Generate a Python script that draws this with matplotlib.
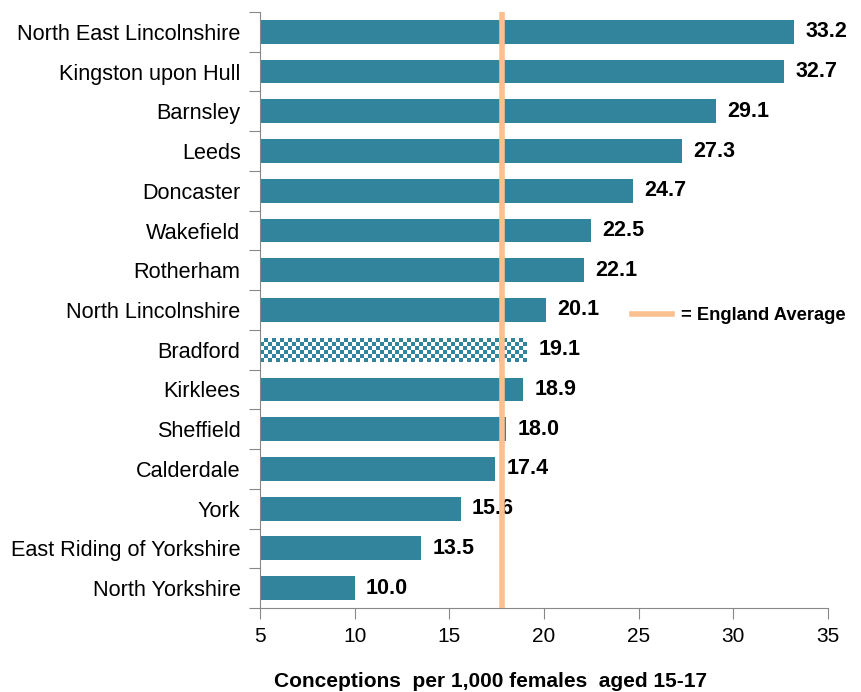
import matplotlib
matplotlib.use('Agg')
import matplotlib.pyplot as plt
import numpy as np
from matplotlib.lines import Line2D

areas = ["North East Lincolnshire", "Kingston upon Hull", "Barnsley", "Leeds",
         "Doncaster", "Wakefield", "Rotherham", "North Lincolnshire", "Bradford",
         "Kirklees", "Sheffield", "Calderdale", "York", "East Riding of Yorkshire",
         "North Yorkshire"]
rates = [33.2, 32.7, 29.1, 27.3, 24.7, 22.5, 22.1, 20.1, 19.1, 18.9, 18.0, 17.4,
         15.6, 13.5, 10.0]
england_avg = 17.8
highlight = "Bradford"

teal = "#31849B"
peach = "#FAC090"
font = ["Liberation Sans", "DejaVu Sans"]
plt.rcParams["font.family"] = font

fig = plt.figure(figsize=(8.62, 6.92), dpi=100)
ax = fig.add_axes([0.3016, 0.1214, 0.659, 0.8613])

base = 5
y = np.arange(len(areas))[::-1]
bars = ax.barh(y, np.array(rates) - base, left=base, height=0.6, color=teal, zorder=2)

ax.set_xlim(5, 35)
ax.set_ylim(-0.5, len(areas) - 0.5)

# checkered bar for the highlighted area
hb = bars[areas.index(highlight)]
hb.set_facecolor("none")
fig.canvas.draw()
x0, x1 = hb.get_x(), hb.get_x() + hb.get_width()
y0, y1 = hb.get_y(), hb.get_y() + hb.get_height()
p0 = ax.transData.transform((x0, y0))
p1 = ax.transData.transform((x1, y1))
nc = max(1, int(round(abs(p1[0] - p0[0]) / 4)))
nr = max(1, int(round(abs(p1[1] - p0[1]) / 4)))
checker = (np.add.outer(np.arange(nr), np.arange(nc)) % 2).astype(float)
cmap = matplotlib.colors.ListedColormap(["white", teal])
im = ax.imshow(checker, extent=(x0, x1, y0, y1), cmap=cmap, aspect="auto",
               interpolation="nearest", zorder=2)
im.set_clip_path(hb)

for yy, v in zip(y, rates):
    ax.text(v + 0.6, yy, f"{v:.1f}", va="center", ha="left", fontsize=15.5,
            fontweight="bold", zorder=3)

ax.axvline(england_avg, color=peach, lw=4, zorder=4)

ax.set_yticks(np.arange(-0.5, len(areas), 1.0))
ax.set_yticklabels([])
ax.set_yticks(y, areas, minor=True)
ax.tick_params(axis="y", which="minor", length=0, labelsize=15.6, pad=14)
ax.tick_params(axis="y", which="major", length=8, color="#888888", direction="out")
ax.set_xticks(range(5, 36, 5))
ax.tick_params(axis="x", length=8, color="#888888", labelsize=15, pad=6)

for s in ["top", "right"]:
    ax.spines[s].set_visible(False)
ax.spines["left"].set_color("#888888")
ax.spines["bottom"].set_color("#888888")

ax.set_xlabel("Conceptions  per 1,000 females  aged 15-17", fontsize=15,
              fontweight="bold")
ax.xaxis.set_label_coords(0.405, -0.108)

handle = Line2D([], [], color=peach, lw=4)
ax.legend([handle], ["= England Average"], loc="center left",
          bbox_to_anchor=(0.625, 0.49), frameon=False, handlelength=2.2,
          handletextpad=0.5, prop={"family": font, "weight": "bold", "size": 13.2})

fig.savefig("out.png", dpi=100)
